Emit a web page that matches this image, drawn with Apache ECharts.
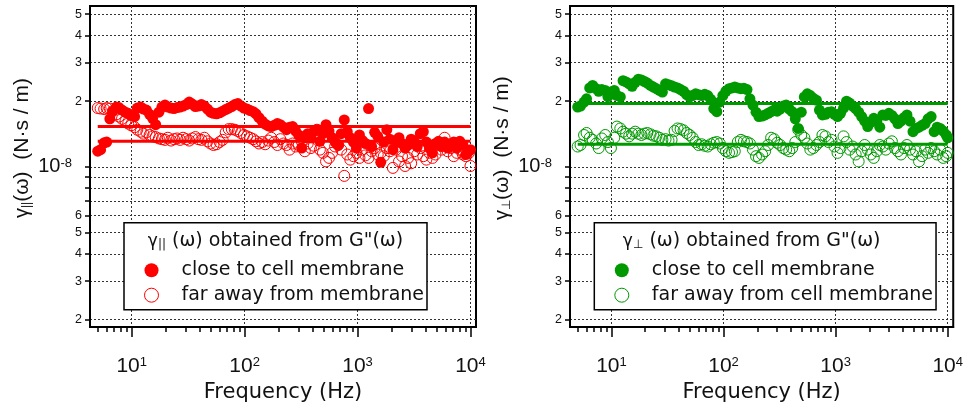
<!DOCTYPE html>
<html><head><meta charset="utf-8">
<script src="https://cdn.jsdelivr.net/npm/echarts@6/dist/echarts.min.js"></script>
<style>html,body{margin:0;padding:0;background:#fff}#c{width:966px;height:408px}</style>
</head><body><div id="c"></div>
<script>
// Frequency (Hz)
const freq = [5.0,5.3,5.7,6.0,6.4,6.8,7.3,7.7,8.2,8.8,9.3,9.9,10.6,11.2,12.0,12.7,13.5,14.4,15.3,16.3,17.4,18.5,19.7,20.9,22.3,23.7,25.2,26.8,28.5,30.4,32.3,34.4,36.6,38.9,41.4,44.0,46.9,49.9,53.0,56.4,60.0,63.9,68.0,72.3,76.9,81.9,87.1,92.7,98.6,105,112,119,126,134,143,152,162,172,183,195,207,221,235,250,266,283,301,320,341,362,386,410,437,464,494,526,559,595,633,674,717,763,811,863,919,977,1040,1106,1177,1252,1333,1418,1509,1605,1708,1817,1933,2057,2189,2329,2478,2636,2805,2985,3176,3379,3595,3825,4070,4330,4607,4902,5216,5550,5905,6283,6685,7113,7568,8053,8568,9116,9700,10000];
// gamma values in units of 1e-8 N·s/m
const closeParallel = [1.18,1.20,1.29,1.30,1.66,1.80,1.88,1.87,1.82,1.78,1.76,1.72,1.70,1.86,1.88,1.84,1.82,1.74,1.67,1.56,1.78,1.88,1.92,1.88,1.86,1.85,1.87,1.88,1.90,1.93,1.98,1.94,1.89,1.90,1.93,1.90,1.84,1.78,1.76,1.75,1.77,1.80,1.83,1.86,1.89,1.93,1.95,1.90,1.86,1.84,1.81,1.79,1.75,1.68,1.62,1.57,1.54,1.53,1.55,1.58,1.56,1.52,1.48,1.52,1.53,1.46,1.40,1.22,1.36,1.42,1.36,1.45,1.48,1.31,1.42,1.56,1.46,1.36,1.30,1.26,1.42,1.64,1.45,1.36,1.30,1.22,1.40,1.32,1.28,1.85,1.24,1.44,1.38,1.05,1.30,1.48,1.34,1.20,1.30,1.36,1.28,1.22,1.26,1.34,1.31,1.24,1.42,1.45,1.30,1.22,1.16,1.28,1.31,1.24,1.30,1.22,1.26,1.30,1.22,1.31,1.26,1.14,1.18,1.20];
const farParallel = [1.86,1.85,1.84,1.86,1.85,1.80,1.74,1.70,1.66,1.62,1.58,1.55,1.52,1.48,1.45,1.42,1.44,1.40,1.38,1.37,1.35,1.34,1.33,1.36,1.32,1.34,1.35,1.33,1.36,1.34,1.32,1.35,1.37,1.34,1.33,1.36,1.31,1.28,1.26,1.27,1.30,1.33,1.44,1.49,1.49,1.48,1.46,1.43,1.40,1.38,1.36,1.34,1.31,1.28,1.30,1.27,1.32,1.36,1.30,1.26,1.34,1.28,1.26,1.20,1.28,1.24,1.26,1.31,1.18,1.28,1.22,1.25,1.48,1.20,1.16,1.06,1.10,1.16,1.24,1.26,1.20,0.91,1.14,1.08,1.12,1.16,1.10,1.20,1.13,1.10,1.18,1.22,1.14,1.16,1.12,1.22,1.18,0.99,1.20,1.06,1.12,1.01,1.10,1.04,1.18,1.14,1.22,1.12,1.08,1.16,1.10,1.14,1.26,1.20,1.36,1.18,1.22,1.12,1.16,1.20,1.14,1.12,1.16,1.01];
const closePerp = [1.88,1.90,1.98,2.05,2.30,2.36,2.28,2.22,2.26,2.24,2.10,2.20,2.24,2.12,2.09,2.48,2.45,2.40,2.34,2.44,2.52,2.50,2.46,2.42,2.36,2.32,2.28,2.24,2.20,2.40,2.38,2.35,2.32,2.30,2.26,2.22,2.14,2.09,2.12,2.16,2.14,2.12,2.15,2.12,2.04,1.85,1.79,1.98,2.12,2.22,2.28,2.30,2.32,2.30,2.28,2.29,2.26,2.05,1.92,1.78,1.70,1.71,1.73,1.76,1.79,1.82,1.80,1.84,1.90,1.92,1.84,1.79,1.66,1.50,1.78,2.09,2.16,2.12,2.06,2.02,1.82,1.73,1.74,1.78,1.79,1.74,1.70,1.76,1.86,2.00,1.96,1.90,1.85,1.78,1.70,1.62,1.53,1.60,1.67,1.62,1.52,1.73,1.72,1.76,1.72,1.66,1.58,1.62,1.68,1.73,1.62,1.45,1.50,1.52,1.55,1.58,1.66,1.70,1.45,1.52,1.50,1.46,1.40,1.36];
const farPerp = [1.24,1.26,1.40,1.43,1.36,1.33,1.28,1.22,1.35,1.40,1.30,1.22,1.36,1.53,1.50,1.45,1.42,1.38,1.42,1.45,1.42,1.40,1.42,1.43,1.41,1.39,1.38,1.36,1.33,1.34,1.32,1.33,1.46,1.50,1.49,1.47,1.43,1.40,1.36,1.30,1.26,1.27,1.25,1.24,1.27,1.29,1.30,1.28,1.22,1.18,1.16,1.17,1.18,1.30,1.33,1.31,1.30,1.28,1.20,1.12,1.10,1.14,1.18,1.26,1.36,1.34,1.29,1.26,1.22,1.20,1.18,1.22,1.30,1.48,1.40,1.36,1.28,1.20,1.22,1.26,1.30,1.40,1.38,1.30,1.33,1.24,1.16,1.22,1.38,1.30,1.20,1.24,1.14,1.06,1.18,1.26,1.20,1.14,1.10,1.18,1.26,1.24,1.20,1.28,1.31,1.22,1.18,1.14,1.22,1.26,1.20,1.14,1.18,1.06,1.12,1.20,1.16,1.22,1.18,1.14,1.20,1.10,1.12,1.16];
// mean levels [close, far]
const meanParallel = [1.53, 1.31];
const meanPerp = [1.95, 1.27];
const meanSpan = [5, 10000];
// ticks
const xMajorTicks = [10, 100, 1000, 10000];
const xMinorTicks = [5,6,7,8,9,20,30,40,50,60,70,80,90,200,300,400,500,600,700,800,900,2000,3000,4000,5000,6000,7000,8000,9000];
const yTicks = [0.2,0.3,0.4,0.5,0.6,0.7,0.8,0.9,1,2,3,4,5];
const yLabelTicks = [0.2,0.3,0.4,0.5,0.6,1,2,3,4,5];
const legendNames = ['close to cell membrane', 'far away from membrane', 'far away from cell membrane'];

const RED = '#ff0000', GREEN = '#009900';
const X_MIN = 4.27, X_MAX = 11200, Y_MIN = 0.185, Y_MAX = 5.45;
const TXT = '#111';
const pts = ys => freq.map((f, i) => [f, ys[i]]);
const lineData = v => meanSpan.map(f => [f, v]);

function xMinor(g) {
  return { type: 'log', gridIndex: g, position: 'bottom', min: X_MIN, max: X_MAX,
    axisLine: { show: true, lineStyle: { color: '#000', width: 2 } },
    axisTick: { show: true, length: 5, customValues: xMinorTicks, lineStyle: { color: '#000', width: 1.5 } },
    axisLabel: { show: false }, splitLine: { show: false } };
}
function xMajor(g) {
  return { type: 'log', gridIndex: g, position: 'bottom', min: X_MIN, max: X_MAX,
    axisLine: { show: false },
    axisTick: { show: true, length: 10, customValues: xMajorTicks, lineStyle: { color: '#000', width: 1.5 } },
    axisLabel: { customValues: xMajorTicks, margin: 29, color: TXT,
      formatter: v => '{b|10}{s|' + Math.round(Math.log10(v)) + '}',
      rich: { b: { fontSize: 21, fontFamily: 'Liberation Sans', color: TXT },
              s: { fontSize: 13, fontFamily: 'Liberation Sans', color: TXT, verticalAlign: 'top' } } },
    splitLine: { show: true, lineStyle: { type: [2, 2], color: '#333', width: 1 } },
    name: 'Frequency (Hz)', nameLocation: 'middle', nameGap: 45,
    nameTextStyle: { fontFamily: 'DejaVu Sans', fontSize: 21, color: TXT } };
}
function yAxis(g, sub) {
  return { type: 'log', gridIndex: g, min: Y_MIN, max: Y_MAX,
    axisLine: { show: true, lineStyle: { color: '#000', width: 2 } },
    axisTick: { show: true, length: 5, customValues: yTicks, lineStyle: { color: '#000', width: 1.5 } },
    axisLabel: { customValues: yLabelTicks, margin: 8, color: TXT, fontFamily: 'Liberation Sans', fontSize: 12.5,
      formatter: v => {
        const r = Math.round(v * 10) / 10;
        if (Math.abs(r - 1) < 1e-6) return '{b|10}{s|-8}';
        return '{d|' + (r < 1 ? Math.round(r * 10) : Math.round(r)) + '}';
      },
      rich: { d: { fontSize: 12.5, fontFamily: 'Liberation Sans', color: TXT },
              b: { fontSize: 20, fontFamily: 'Liberation Sans', color: TXT },
              s: { fontSize: 13, fontFamily: 'Liberation Sans', color: TXT, verticalAlign: 'top', padding: [0, 10, 0, 0] } } },
    splitLine: { show: true, lineStyle: { type: [2, 2], color: '#333', width: 1 } },
    name: '{pad| }{g|γ}{sub|' + sub + '}{t|(ω)  (N·s / m)}', nameLocation: 'middle', nameGap: 57,
    nameTextStyle: { color: TXT, rich: {
      pad: { width: 37, fontSize: 21, fontFamily: 'Liberation Sans' },
      g: { fontSize: 20, fontFamily: 'Liberation Sans', color: TXT },
      sub: { fontSize: 12, fontFamily: 'Liberation Sans', color: TXT, verticalAlign: 'bottom' },
      t: { fontSize: 21, fontFamily: 'Liberation Sans', color: TXT } } } };
}
function legend(left, color, farName) {
  return { left: left, top: 222.7, orient: 'vertical', selectedMode: false,
    padding: [38, 3, 5, 20], itemWidth: 50, itemHeight: 14, itemGap: 6,
    backgroundColor: '#fff', borderColor: '#000', borderWidth: 1.5, borderRadius: 0,
    textStyle: { fontFamily: 'DejaVu Sans', fontSize: 19, color: TXT },
    data: [
      { name: legendNames[0], icon: 'circle', itemStyle: { color: color, borderWidth: 0 } },
      { name: farName, icon: 'circle', itemStyle: { color: 'rgba(255,255,255,0)', borderColor: color, borderWidth: 1 } }
    ] };
}
function legendTitle(x, sub) {
  return { type: 'text', x: x, y: 241.5, z: 100,
    style: { text: '{g|γ}{sub|' + sub + '}{t| (ω) obtained from G"(ω)}', align: 'center', verticalAlign: 'middle',
      rich: { g: { fontSize: 17, fontFamily: 'DejaVu Sans', fill: TXT },
              sub: { fontSize: 12, fontFamily: 'DejaVu Sans', fill: TXT, verticalAlign: 'bottom' },
              t: { fontSize: 19, fontFamily: 'DejaVu Sans', fill: TXT } } } };
}
function scatter(name, xi, yi, ys, color, filled) {
  return { type: 'scatter', name: name, xAxisIndex: xi, yAxisIndex: yi, data: pts(ys), symbol: 'circle',
    symbolSize: 11, z: filled ? 3 : 2,
    itemStyle: filled ? { color: color, opacity: 1 } : { color: 'rgba(255,255,255,0)', borderColor: color, borderWidth: 1, opacity: 1 } };
}
function meanLine(xi, yi, v, color) {
  return { type: 'line', xAxisIndex: xi, yAxisIndex: yi, data: lineData(v), symbol: 'none', z: 5,
    lineStyle: { color: color, width: 3 }, silent: true };
}

const chart = echarts.init(document.getElementById('c'), null, { renderer: 'canvas' });
chart.setOption({
  animation: false,
  backgroundColor: '#fff',
  grid: [
    { left: 90, top: 6, width: 386, height: 326, show: true, borderColor: '#000', borderWidth: 2, backgroundColor: 'transparent' },
    { left: 570, top: 6, width: 386, height: 326, show: true, borderColor: '#000', borderWidth: 2, backgroundColor: 'transparent' }
  ],
  xAxis: [xMinor(0), xMajor(0), xMinor(1), xMajor(1)],
  yAxis: [yAxis(0, '||'), yAxis(1, '⊥')],
  legend: [legend(124, RED, legendNames[1]), legend(594.3, GREEN, legendNames[2])],
  graphic: [legendTitle(275.5, '||'), legendTitle(751.7, '⊥')],
  series: [
    scatter(legendNames[1], 1, 0, farParallel, RED, false),
    scatter(legendNames[0], 1, 0, closeParallel, RED, true),
    meanLine(1, 0, meanParallel[0], RED),
    meanLine(1, 0, meanParallel[1], RED),
    scatter(legendNames[2], 3, 1, farPerp, GREEN, false),
    scatter(legendNames[0], 3, 1, closePerp, GREEN, true),
    meanLine(3, 1, meanPerp[0], GREEN),
    meanLine(3, 1, meanPerp[1], GREEN)
  ]
});
</script></body></html>
